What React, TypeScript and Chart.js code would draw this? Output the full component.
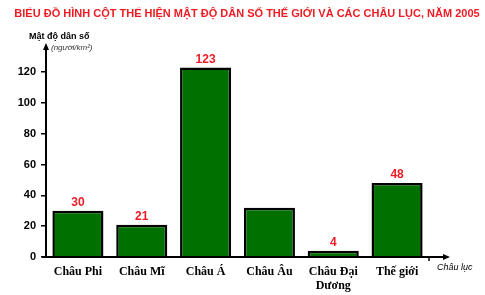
import React, { useEffect, useRef } from "react";
import { Chart, registerables } from "chart.js";

Chart.register(...registerables);

const categories: (string | string[])[] = ["Châu Phi", "Châu Mĩ", "Châu Á", "Châu Âu", ["Châu Đại", "Dương"], "Thế giới"];
const densities = [30, 21, 123, 32, 4, 48];
const valueLabels = ["30", "21", "123", "", "4", "48"];
const yTicks = [0, 20, 40, 60, 80, 100, 120];
const title = "BIỂU ĐỒ HÌNH CỘT THỂ HIỆN MẬT ĐỘ DÂN SỐ THẾ GIỚI VÀ CÁC CHÂU LỤC, NĂM 2005";
const yTitle = "Mật độ dân số";
const yUnit = "(người/km²)";
const xTitle = "Châu lục";

const RED = "#ee1c24";
const SANS = "'Liberation Sans', Arial, sans-serif";
const SERIF = "'Liberation Serif', 'Times New Roman', serif";

const decorPlugin = {
  id: "decor",
  afterDraw(chart: any) {
    const ctx = chart.ctx;
    const a = chart.chartArea;
    ctx.save();
    // title
    ctx.fillStyle = RED;
    ctx.font = `bold 11px ${SANS}`;
    ctx.textAlign = "center";
    ctx.textBaseline = "middle";
    ctx.fillText(title, 247, 14);

    // axes
    ctx.strokeStyle = "#000";
    ctx.fillStyle = "#000";
    ctx.lineWidth = 2;
    const x0 = a.left;
    const y0 = a.bottom;
    ctx.beginPath();
    ctx.moveTo(x0, y0 + 1);
    ctx.lineTo(x0, a.top - 2);
    ctx.stroke();
    ctx.beginPath();
    ctx.moveTo(x0 - 4, y0);
    ctx.lineTo(a.right + 16, y0);
    ctx.stroke();
    // arrow heads
    ctx.beginPath();
    ctx.moveTo(x0, a.top - 6);
    ctx.lineTo(x0 - 3, a.top + 1);
    ctx.lineTo(x0 + 3, a.top + 1);
    ctx.closePath();
    ctx.fill();
    ctx.beginPath();
    ctx.moveTo(a.right + 21, y0);
    ctx.lineTo(a.right + 14, y0 - 3);
    ctx.lineTo(a.right + 14, y0 + 3);
    ctx.closePath();
    ctx.fill();
    // end tick
    ctx.lineWidth = 1.5;
    ctx.beginPath();
    ctx.moveTo(a.right, y0);
    ctx.lineTo(a.right, y0 + 4);
    ctx.stroke();

    // axis titles
    ctx.textAlign = "left";
    ctx.font = `bold 9px ${SANS}`;
    ctx.fillText(yTitle, 29, 37);
    ctx.font = `italic 8px ${SANS}`;
    ctx.fillStyle = "#333";
    ctx.fillText(yUnit, 51, 48);
    ctx.fillStyle = "#000";
    ctx.font = `italic 9px ${SANS}`;
    ctx.fillText(xTitle, a.right + 8, y0 + 10);

    // value labels
    const meta = chart.getDatasetMeta(0);
    ctx.fillStyle = RED;
    ctx.font = `bold 12px ${SANS}`;
    ctx.textAlign = "center";
    meta.data.forEach((bar: any, i: number) => {
      if (valueLabels[i]) ctx.fillText(valueLabels[i], bar.x, bar.y - 8);
    });
    ctx.restore();
  },
};

export default function App() {
  const ref = useRef<HTMLCanvasElement>(null);
  useEffect(() => {
    if (!ref.current) return;
    const chart = new Chart(ref.current, {
      type: "bar",
      data: {
        labels: categories as any,
        datasets: [
          {
            data: densities,
            backgroundColor: "#007000",
            borderColor: "#000",
            borderWidth: 2.5,
            barPercentage: 0.8,
            categoryPercentage: 1,
          },
        ],
      },
      options: {
        responsive: false,
        animation: false,
        layout: { padding: { left: 0, top: 49, right: 56, bottom: 0 } },
        plugins: { legend: { display: false }, tooltip: { enabled: false }, title: { display: false } },
        scales: {
          x: {
            border: { display: false },
            grid: { display: false },
            ticks: {
              color: "#000",
              font: { family: SERIF, weight: "bold", size: 12, lineHeight: 1.15 },
              padding: 0,
              maxRotation: 0,
              autoSkip: false,
            },
            afterFit: (s: any) => {
              s.height = 38;
            },
          },
          y: {
            min: 0,
            max: 135,
            border: { display: false },
            afterBuildTicks: (s: any) => {
              s.ticks = yTicks.map((v) => ({ value: v }));
            },
            grid: {
              drawOnChartArea: false,
              drawTicks: true,
              tickLength: 5,
              color: "#000",
              lineWidth: 1.5,
            },
            ticks: {
              color: "#000",
              font: { family: SANS, weight: "bold", size: 11 },
              padding: 5,
            },
            afterFit: (s: any) => {
              s.width = 46;
            },
          },
        },
      },
      plugins: [decorPlugin],
    });
    return () => chart.destroy();
  }, []);
  return (
    <div style={{ position: "absolute", left: 0, top: 0, width: 485, height: 295, background: "#fff" }}>
      <canvas ref={ref} width={485} height={295} />
    </div>
  );
}
